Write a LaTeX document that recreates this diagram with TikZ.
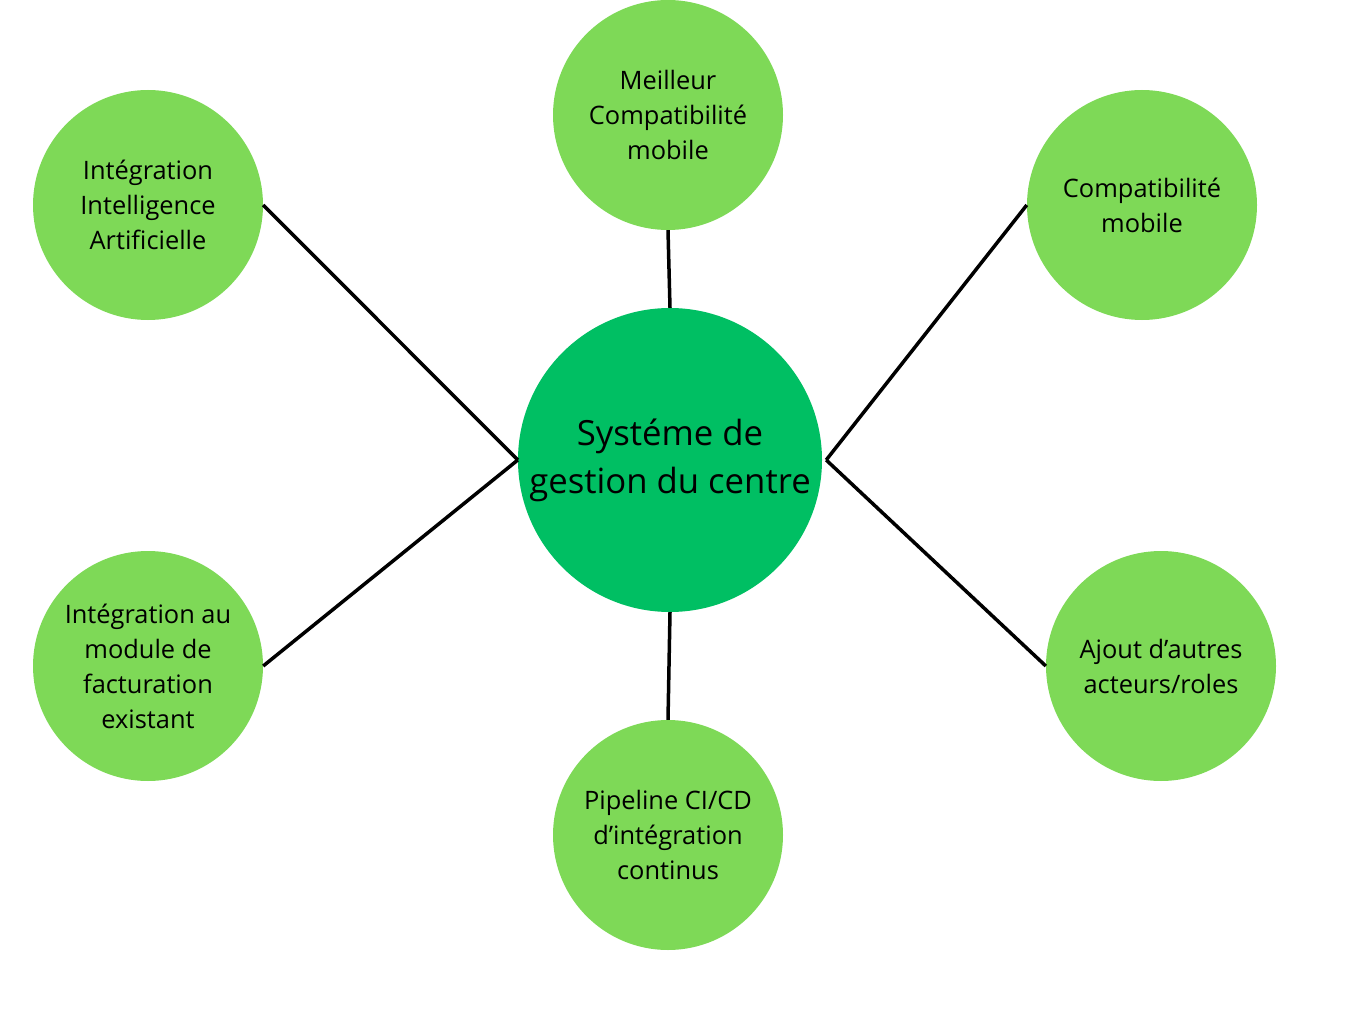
\documentclass[tikz,border=0pt]{standalone}
\usepackage{fontspec}
\setmainfont{Open Sans}
\usepackage{tikz}
\usetikzlibrary{positioning}
\definecolor{leafgreen}{HTML}{7ED957}
\definecolor{hubgreen}{HTML}{00BF63}
\tikzset{
  hubnode/.style={circle, fill=hubgreen, minimum size=304pt, inner sep=0pt, align=center, font=\fontsize{34.7}{48}\selectfont},
  leafnode/.style={circle, fill=leafgreen, minimum size=230pt, inner sep=0pt, align=center, font=\fontsize{25.4}{35}\selectfont},
  linkline/.style={line width=3.5pt, black}
}

\begin{document}
\begin{tikzpicture}[x=1pt, y=-1pt]
  \useasboundingbox (0,0) rectangle (1366,1011);
  \node[hubnode] (hub) at (670,460) {Systéme de\\gestion du centre};
  \node[leafnode] (top) at (668,115) {Meilleur\\Compatibilité\\mobile};
  \node[leafnode] (ia) at (148,205) {Intégration\\Intelligence\\Artificielle};
  \node[leafnode] (mob) at (1142,205) {Compatibilité\\mobile};
  \node[leafnode] (fact) at (148,666) {Intégration au\\module de\\facturation\\existant};
  \node[leafnode] (roles) at (1161,666) {Ajout d’autres\\acteurs/roles};
  \node[leafnode] (cicd) at (668,835) {Pipeline CI/CD\\d’intégration\\continus};
  \draw[linkline] (top.south) -- (hub.north);
  \draw[linkline] (ia.east) -- (hub.west);
  \draw[linkline] (fact.east) -- (hub.west);
  \draw[linkline] (mob.west) -- ([xshift=4pt]hub.east);
  \draw[linkline] (roles.west) -- ([xshift=4pt]hub.east);
  \draw[linkline] (hub.south) -- (cicd.north);
\end{tikzpicture}
\end{document}
